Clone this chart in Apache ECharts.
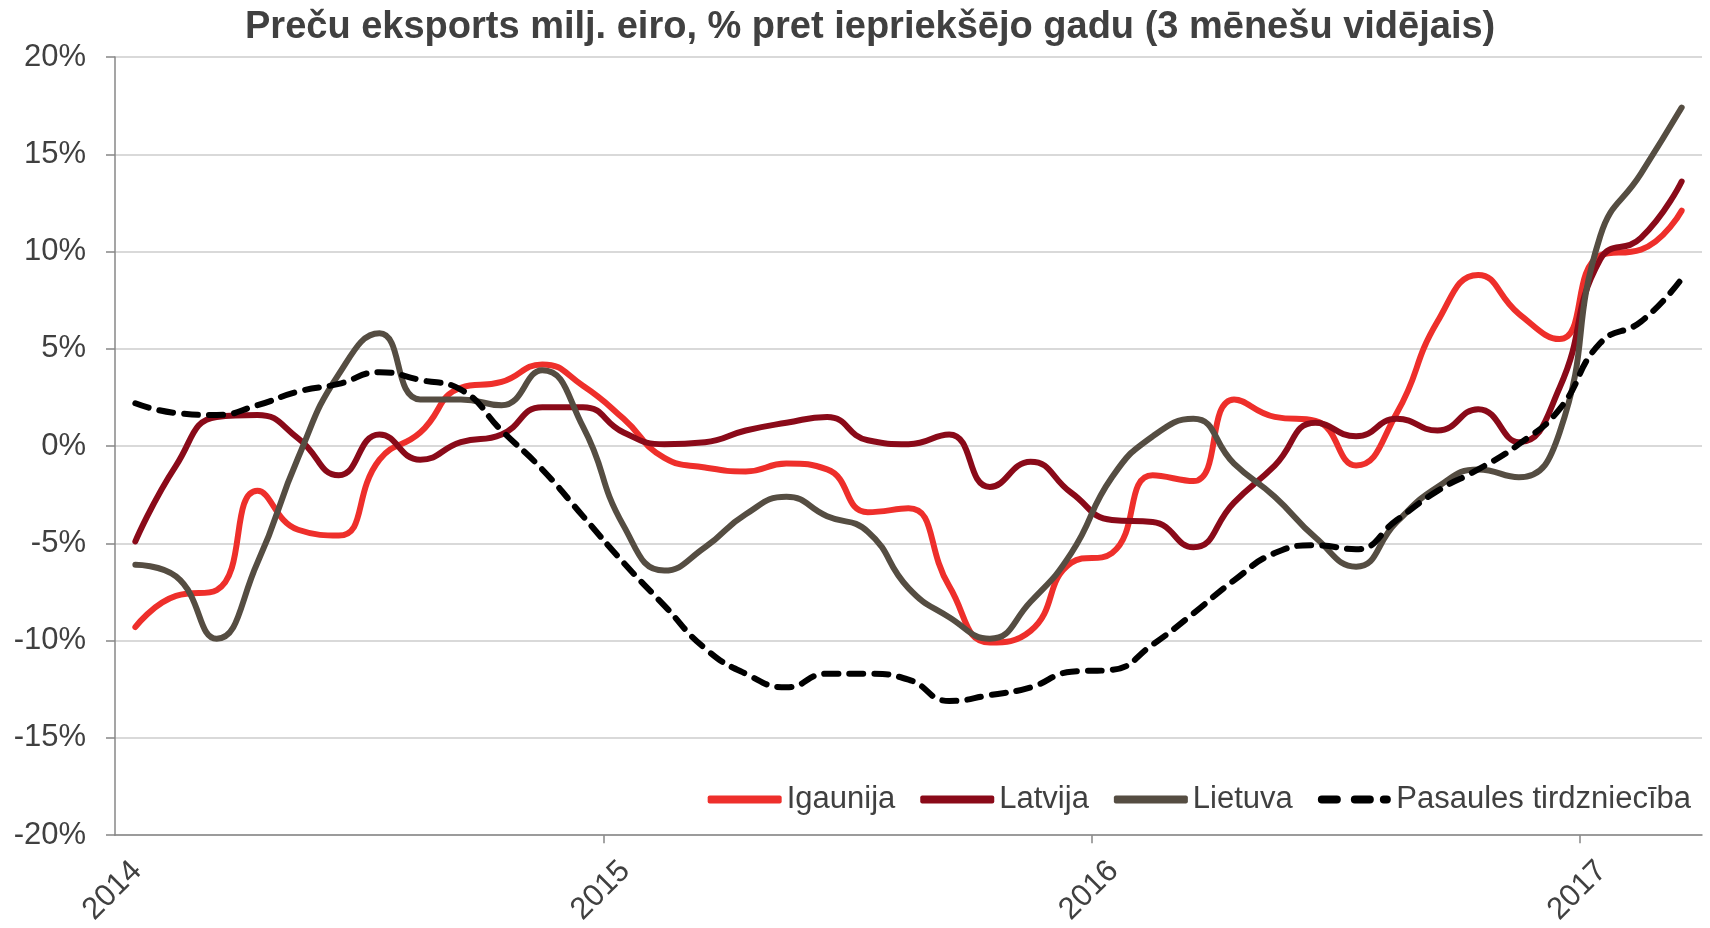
<!DOCTYPE html>
<html>
<head>
<meta charset="utf-8">
<script src="https://cdn.jsdelivr.net/npm/echarts@6/dist/echarts.min.js"></script>
<style>
  html, body { margin: 0; padding: 0; background: #fff; }
  #chart { width: 1710px; height: 928px; }
</style>
</head>
<body>
<div id="chart"></div>
<script>
// monthly values, Jan 2014 .. Mar 2017 (% y/y, 3-month avg)
var yearLabels = ['2014', '2015', '2016', '2017'];
var igaunija = [-9.3, -7.7, -7.4, -2.3, -4.3, -4.6, -0.7, 0.7, 3.0, 3.3,
  4.2, 3.1, 1.4, -0.6, -1.1, -1.3, -0.9, -1.2, -3.4, -3.2,
  -7.2, -10.1, -9.5, -6.0, -5.5, -1.5, -1.8, 2.4, 1.5, 1.3,
  -1.0, 1.7, 6.4, 8.8, 6.8, 5.5, 9.8, 10.1, 12.1];
var latvija = [-4.9, -1.0, 1.5, 1.6, 0.4, -1.5, 0.6, -0.7, 0.2, 0.6,
  2.0, 2.0, 0.7, 0.1, 0.2, 0.8, 1.2, 1.5, 0.3, 0.1,
  0.6, -2.1, -0.8, -2.4, -3.8, -3.9, -5.2, -2.9, -1.0, 1.2,
  0.5, 1.4, 0.8, 1.9, 0.2, 3.0, 9.6, 10.7, 13.6];
var lietuva = [-6.1, -6.7, -9.9, -6.0, -0.6, 3.7, 5.8, 2.4, 2.4, 2.1,
  3.9, 1.0, -4.1, -6.4, -5.2, -3.5, -2.6, -3.6, -4.4, -7.3,
  -8.8, -9.9, -8.0, -5.5, -1.6, 0.5, 1.4, -0.9, -2.6, -4.7,
  -6.2, -3.9, -2.1, -1.2, -1.6, 0.7, 10.8, 14.0, 17.4];
var pasaules = [2.2, 1.7, 1.6, 2.1, 2.8, 3.2, 3.8, 3.4, 2.9, 0.8,
  -1.2, -3.6, -6.0, -8.2, -10.4, -11.7, -12.4, -11.7, -11.7, -12.0,
  -13.1, -12.8, -12.4, -11.6, -11.5, -10.2, -8.6, -6.9, -5.5, -5.1,
  -5.3, -3.8, -2.3, -1.2, 0.1, 1.9, 5.3, 6.4, 8.6];
var yTicks = [-20, -15, -10, -5, 0, 5, 10, 15, 20];

// each month sits in the middle of its slot, years start at 0, 12, 24, 36
function toPoints(arr) {
  return arr.map(function (v, i) { return [i + 0.5, v]; });
}

var textColor = '#404040';
var font = 'Liberation Sans, Arial, sans-serif';
var axisGray = '#878787';

// legend icon for the dashed series: two dashes and a dot
var dashIcon = 'path://M4,0h15a4,4 0 0 1 0,8h-15a4,4 0 0 1 0,-8z' +
  'M37,0h15a4,4 0 0 1 0,8h-15a4,4 0 0 1 0,-8z' +
  'M66,0h3a4,4 0 0 1 0,8h-3a4,4 0 0 1 0,-8z';

var myChart = echarts.init(document.getElementById('chart'));

function lineSeries(name, data, color, dashed) {
  return {
    name: name,
    type: 'line',
    data: toPoints(data),
    smooth: 0.5,
    symbol: 'none',
    xAxisIndex: 0,
    lineStyle: {
      color: color,
      width: 6,
      type: dashed ? [14, 11] : 'solid',
      cap: 'round',
      join: 'round'
    },
    itemStyle: { color: color },
    z: dashed ? 5 : 3
  };
}

var option = {
  animation: false,
  backgroundColor: '#fff',
  title: {
    text: 'Preču eksports milj. eiro, % pret iepriekšējo gadu (3 mēnešu vidējais)',
    left: 240,
    top: 4,
    textStyle: {
      color: textColor,
      fontFamily: font,
      fontWeight: 'bold',
      fontSize: 38
    }
  },
  grid: {
    left: 115,
    right: 8,
    top: 57,
    bottom: 92
  },
  legend: {
    right: 14,
    top: 779,
    itemWidth: 74,
    itemHeight: 8,
    itemGap: 25,
    textStyle: {
      color: textColor,
      fontFamily: font,
      fontSize: 31
    },
    data: [
      { name: 'Igaunija', icon: 'roundRect' },
      { name: 'Latvija', icon: 'roundRect' },
      { name: 'Lietuva', icon: 'roundRect' },
      { name: 'Pasaules tirdzniecība', icon: dashIcon }
    ]
  },
  xAxis: [{
    type: 'value',
    min: 0,
    max: yearLabels.length * 12 - 9,
    interval: 12,
    axisLine: { show: false },
    axisTick: { show: false },
    splitLine: { show: false },
    axisLabel: {
      // a quarter month to the right, like the rotated labels in the original
      customValues: yearLabels.map(function (y, i) { return i * 12 + 0.27; }),
      formatter: function (v) { return yearLabels[Math.round(v / 12)]; },
      rotate: 45,
      margin: 20,
      verticalAlign: 'top',
      color: textColor,
      fontFamily: font,
      fontSize: 31
    }
  }, {
    type: 'value',
    min: 0,
    max: yearLabels.length * 12 - 9,
    interval: 12,
    position: 'bottom',
    axisLine: { show: true, onZero: true, lineStyle: { color: axisGray, width: 1.5 } },
    axisTick: {
      show: true,
      length: 8,
      customValues: [12, 24, 36],
      lineStyle: { color: axisGray, width: 1.5 }
    },
    axisLabel: { show: false },
    splitLine: { show: false }
  }],
  yAxis: {
    type: 'value',
    min: yTicks[0],
    max: yTicks[yTicks.length - 1],
    interval: 5,
    axisLine: { show: true, lineStyle: { color: axisGray, width: 1.5 } },
    axisTick: { show: true, length: 9, lineStyle: { color: axisGray, width: 1.5 } },
    splitLine: { show: true, lineStyle: { color: '#d9d9d9', width: 2 } },
    axisLabel: {
      formatter: '{value}%',
      margin: 29,
      color: textColor,
      fontFamily: font,
      fontSize: 31
    }
  },
  series: [
    lineSeries('Igaunija', igaunija, '#ee2f2b', false),
    lineSeries('Latvija', latvija, '#8a0a19', false),
    lineSeries('Lietuva', lietuva, '#554d42', false),
    lineSeries('Pasaules tirdzniecība', pasaules, '#000000', true)
  ]
};

myChart.setOption(option);
window.addEventListener('resize', function () { myChart.resize(); });
</script>
</body>
</html>
